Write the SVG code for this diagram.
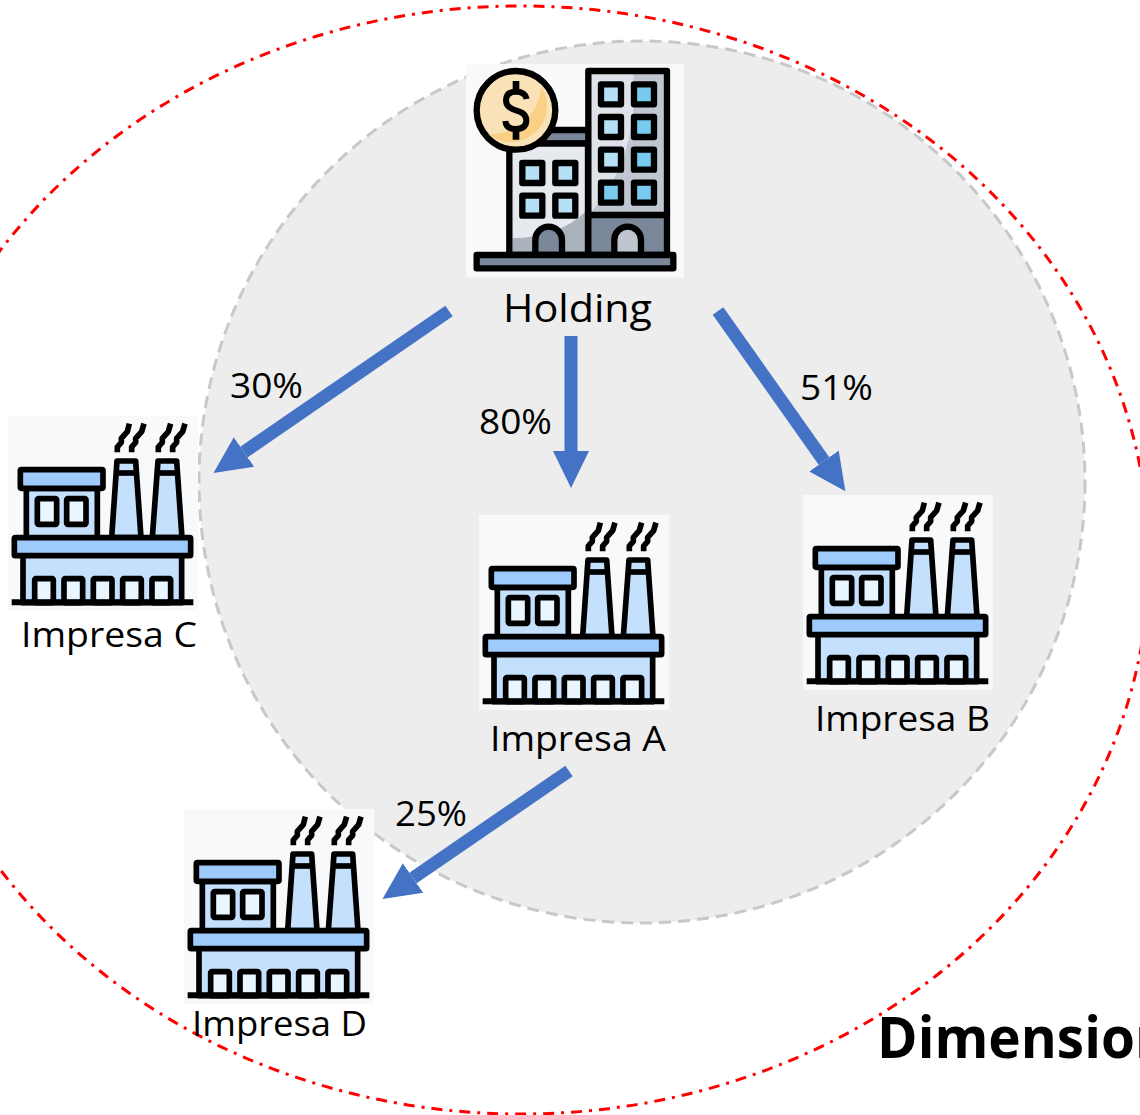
<svg xmlns="http://www.w3.org/2000/svg" xmlns:xlink="http://www.w3.org/1999/xlink" width="1140" height="1115" viewBox="0 0 1140 1115">
<style>
text{font-family:"Open Sans","Noto Sans","Liberation Sans",sans-serif;fill:#000}
.lbl{font-size:35px}
.pct{font-size:34px}
.k{stroke:#000;stroke-width:17;stroke-linejoin:round}
.ks{stroke:#000;stroke-width:19;stroke-linejoin:round;stroke-linecap:round}
.arrow{fill:none;stroke:#4472c4;stroke-width:13;marker-end:url(#head)}
</style>
<defs>
<marker id="head" markerUnits="userSpaceOnUse" markerWidth="38" markerHeight="38" refX="0" refY="19" orient="auto"><path d="M0,1L37,19L0,37Z" fill="#4472c4"/></marker>
<g id="factory" transform="scale(.3333)">
<rect x="12" y="15" width="570" height="585" fill="#f8f9fb"/>
<path d="M340,124V108L352,94V82L370,62L376,38M383,124V108L395,94V82L413,62L420,38M463,124V108L475,94V82L493,62L500,38M506,124V108L518,94V82L536,62L543,38" fill="none" stroke="#000" stroke-width="17" stroke-linejoin="round"/>
<rect class="k" x="67" y="232" width="213" height="150" fill="#c5e0fd"/>
<rect class="k" x="49" y="176" width="248" height="56" rx="3" fill="#9ecbfb"/>
<rect class="k" x="100" y="263" width="58" height="77" rx="4" fill="#e9f5ff"/>
<rect class="k" x="188" y="263" width="58" height="77" rx="4" fill="#e9f5ff"/>
<path class="k" d="M323,380L339,150H395L411,380Z" fill="#c5e0fd"/>
<path class="k" d="M337,186H397" fill="none"/>
<path class="k" d="M445,380L462,150H518L534,380Z" fill="#c5e0fd"/>
<path class="k" d="M460,186H520" fill="none"/>
<rect class="k" x="57" y="432" width="476" height="143" fill="#c5e0fd"/>
<rect class="k" x="31" y="380" width="529" height="54" rx="3" fill="#9ecbfb"/>
<g fill="#e9f5ff">
<rect class="k" x="92" y="503" width="56" height="72" rx="4"/>
<rect class="k" x="180" y="503" width="56" height="72" rx="4"/>
<rect class="k" x="268" y="503" width="56" height="72" rx="4"/>
<rect class="k" x="356" y="503" width="56" height="72" rx="4"/>
<rect class="k" x="444" y="503" width="56" height="72" rx="4"/>
</g>
<path d="M23,574H568" stroke="#000" stroke-width="18"/>
</g>
</defs>
<rect width="1140" height="1115" fill="#fff"/>
<ellipse id="outer-boundary" cx="521" cy="560" rx="628" ry="554" fill="none" stroke="#f00" stroke-width="3" stroke-dasharray="11 7 3 7"/>
<ellipse id="inner-boundary" cx="642" cy="482" rx="443" ry="441" fill="#ededed" stroke="#c8c8c8" stroke-width="3" stroke-dasharray="12 7"/>
<g id="holding">
<g transform="translate(460,55) scale(.3333)">
<rect x="18" y="27" width="654" height="641" fill="#f8f9fb"/>
<rect class="ks" x="250" y="225" width="140" height="40" fill="#7a8899"/>
<rect x="148" y="266" width="236" height="334" fill="#e6e9ee"/>
<path d="M157,550Q300,545 376,470V592H157Z" fill="#aab2bc"/>
<rect class="ks" x="148" y="266" width="236" height="334" fill="none"/>
<rect x="385" y="48" width="236" height="552" fill="#c0c6d0"/>
<path d="M394,57H520Q540,300 394,470Z" fill="#dfe2e8"/>
<rect x="385" y="480" width="236" height="120" fill="#7a8899"/>
<rect class="ks" x="385" y="48" width="236" height="552" fill="none"/>
<path class="ks" d="M385,480H621" fill="none"/>
<g fill="#b5e0f5">
<rect class="ks" x="187" y="324" width="60" height="60"/><rect class="ks" x="286" y="324" width="60" height="60"/>
<rect class="ks" x="187" y="422" width="60" height="60"/><rect class="ks" x="286" y="422" width="60" height="60"/>
<rect class="ks" x="423" y="88" width="60" height="60"/>
<rect class="ks" x="423" y="186" width="60" height="60"/>
<rect class="ks" x="423" y="284" width="60" height="60"/>
<rect class="ks" x="423" y="383" width="60" height="60" fill="#78cbee"/>
<rect class="ks" x="522" y="88" width="60" height="60" fill="#78cbee"/>
<rect class="ks" x="522" y="186" width="60" height="60" fill="#78cbee"/>
<rect class="ks" x="522" y="284" width="60" height="60" fill="#78cbee"/>
<rect class="ks" x="522" y="383" width="60" height="60" fill="#78cbee"/>
</g>
<path class="ks" d="M226,600V555A40,40 0 0 1 306,555V600Z" fill="#7a8899"/>
<path class="ks" d="M463,600V555A40,40 0 0 1 543,555V600Z" fill="#c0c6d0"/>
<rect class="ks" x="50" y="600" width="590" height="40" fill="#7a8899"/>
<circle class="ks" cx="168" cy="166" r="118" fill="#fae2b8"/>
<path d="M245,95A109,109 0 0 1 85,238Q220,235 245,95Z" fill="#f9d085"/>
<path d="M168,78V112M168,220V254" stroke="#000" stroke-width="20" fill="none"/>
<path d="M200,132Q196,110 168,110Q138,110 138,136Q138,158 168,166Q199,174 199,196Q199,222 168,222Q138,222 136,198" stroke="#000" stroke-width="18" fill="none"/>
</g>
<text x="503" y="322" style="font-size:38px" textLength="149" lengthAdjust="spacingAndGlyphs">Holding</text>
</g>
<g id="impresa-c"><use xlink:href="#factory" href="#factory" transform="translate(4,411)"/><text class="lbl" x="21" y="647" textLength="176" lengthAdjust="spacingAndGlyphs">Impresa C</text></g>
<g id="impresa-a"><use xlink:href="#factory" href="#factory" transform="translate(475,510)"/><text class="lbl" x="490" y="751" textLength="176" lengthAdjust="spacingAndGlyphs">Impresa A</text></g>
<g id="impresa-b"><use xlink:href="#factory" href="#factory" transform="translate(799,490)"/><text class="lbl" x="815" y="731" textLength="175" lengthAdjust="spacingAndGlyphs">Impresa B</text></g>
<g id="impresa-d"><use xlink:href="#factory" href="#factory" transform="translate(180,804)"/><text class="lbl" x="192" y="1036" textLength="175" lengthAdjust="spacingAndGlyphs">Impresa D</text></g>
<g id="connectors">
<path class="arrow" d="M449,311L244,452"/>
<path class="arrow" d="M571,336V451"/>
<path class="arrow" d="M718,311L824,461"/>
<path class="arrow" d="M569,771L413,878"/>
</g>
<g id="edge-labels">
<text class="pct" x="230" y="398" textLength="73" lengthAdjust="spacingAndGlyphs">30%</text>
<text class="pct" x="479" y="434" textLength="73" lengthAdjust="spacingAndGlyphs">80%</text>
<text class="pct" x="800" y="400" textLength="73" lengthAdjust="spacingAndGlyphs">51%</text>
<text class="pct" x="395" y="826" textLength="72" lengthAdjust="spacingAndGlyphs">25%</text>
</g>
<text id="dimension-label" x="877" y="1058" font-weight="700" style="font-size:57px" textLength="294" lengthAdjust="spacingAndGlyphs">Dimension</text>
</svg>
